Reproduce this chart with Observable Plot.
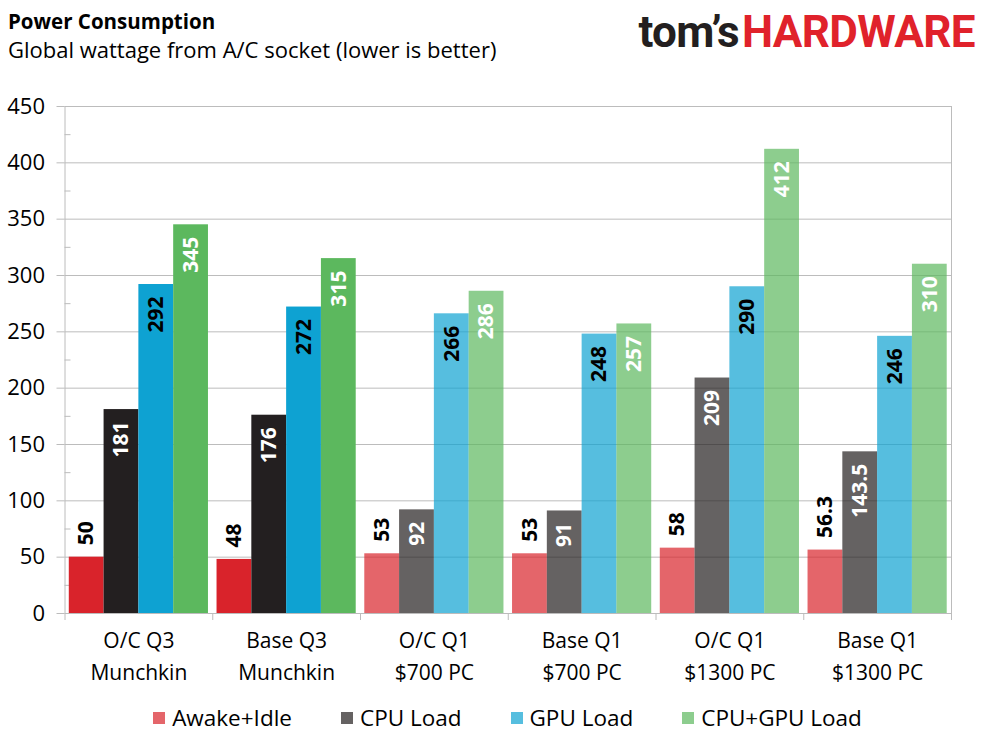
<!DOCTYPE html>
<html>
<head>
<meta charset="utf-8">
<script src="https://cdn.jsdelivr.net/npm/d3@7"></script>
<script src="https://cdn.jsdelivr.net/npm/@observablehq/plot@0.6"></script>
<style>
  html, body { margin: 0; padding: 0; background: #fff; }
  body { width: 989px; height: 742px; position: relative; overflow: hidden; font-family: "Open Sans", sans-serif; color: #000; }
  #title { position: absolute; left: 8px; top: 11px; font-size: 20.5px; font-weight: 700; line-height: 1; white-space: nowrap; }
  #subtitle { position: absolute; left: 8px; top: 38px; font-size: 22px; line-height: 1; white-space: nowrap; }
  #logo { position: absolute; right: 14px; top: 10px; font-family: Roboto, sans-serif; font-weight: 700; font-size: 44px; line-height: 1; letter-spacing: -0.6px; white-space: nowrap; }
  #logo .a { color: #231f20; }
  #logo .b { color: #e0222b; margin-left: 3px; }
  #chart { position: absolute; left: 0; top: 90px; }
  #legend { position: absolute; left: 0; top: 704px; width: 1015px; display: flex; justify-content: center; gap: 49px; font-size: 22.5px; line-height: 28px; }
  #legend .item { display: flex; align-items: center; gap: 7px; white-space: nowrap; }
  #legend .sw { width: 12px; height: 12px; display: inline-block; }
</style>
</head>
<body>
<div id="title">Power Consumption</div>
<div id="subtitle">Global wattage from A/C socket (lower is better)</div>
<div id="logo"><span class="a">tom’s</span><span class="b">HARDWARE</span></div>
<div id="chart"></div>
<div id="legend"></div>
<script>
// ---- data ----
const groups = [
  "O/C Q3\nMunchkin",
  "Base Q3\nMunchkin",
  "O/C Q1\n$700 PC",
  "Base Q1\n$700 PC",
  "O/C Q1\n$1300 PC",
  "Base Q1\n$1300 PC"
];
const series = ["Awake+Idle", "CPU Load", "GPU Load", "CPU+GPU Load"];
const awakeIdle = [50, 48, 53, 53, 58, 56.3];
const cpuLoad   = [181, 176, 92, 91, 209, 143.5];
const gpuLoad   = [292, 272, 266, 248, 290, 246];
const cpuGpuLoad = [345, 315, 286, 257, 412, 310];
const yTicks = [0, 50, 100, 150, 200, 250, 300, 350, 400, 450];
const yMinorTicks = [25, 75, 125, 175, 225, 275, 325, 375, 425];

// ---- styles ----
const colors = ["#d9232b", "#231f20", "#0ea2d2", "#5cb85e"];
const labelColors = ["#000", "#fff", "#000", "#fff"];
const q1Opacity = 0.7;
const GAP = 0.029;
const BW = (1 - 2 * GAP) / 4;

const valuesBySeries = [awakeIdle, cpuLoad, gpuLoad, cpuGpuLoad];
const rows = [];
groups.forEach((g, gi) => series.forEach((s, si) => rows.push({ g, gi, s, si, v: valuesBySeries[si][gi], q3: gi < 2 })));

const x1 = d => d.gi + GAP + d.si * BW;
const x2 = d => d.gi + GAP + (d.si + 1) * BW;
const xm = d => d.gi + GAP + (d.si + 0.5) * BW;
const grid = "#bcbcbc";

const chart = Plot.plot({
  width: 989,
  height: 612,
  marginTop: 16,
  marginBottom: 89,
  marginLeft: 64.5,
  marginRight: 38,
  x: { domain: [0, groups.length], axis: null },
  y: { domain: [0, 450], axis: null },
  color: { type: "identity" },
  style: { fontFamily: "Open Sans, sans-serif", background: "white", color: "#000", overflow: "visible" },
  marks: [
    Plot.gridY(yTicks, { stroke: grid, strokeOpacity: 1 }),
    Plot.axisY(yTicks, { label: null, tickSize: 8, stroke: grid, tickPadding: 12, fontSize: 22, tickFormat: d => String(d) }),
    Plot.axisY(yMinorTicks, { label: null, tickSize: -6, stroke: grid, tickFormat: () => "" }),
    Plot.ruleX([0, groups.length], { stroke: grid }),
    Plot.axisX(d3.range(groups.length + 1), { label: null, tickSize: 7, stroke: grid, tickFormat: () => "" }),
    Plot.axisX(groups.map((g, i) => i + 0.5), { label: null, tickSize: 0, tickPadding: 11, fontSize: 21, lineHeight: 1.55, tickFormat: v => groups[Math.floor(v)] }),
    Plot.rect(rows.filter(d => d.q3), { x1, x2, y1: 0, y2: "v", fill: d => colors[d.si] }),
    Plot.rect(rows.filter(d => !d.q3), { x1, x2, y1: 0, y2: "v", fill: d => colors[d.si], fillOpacity: q1Opacity }),
    Plot.text(rows.filter(d => d.si === 0), { x: xm, y: "v", text: d => String(d.v), rotate: -90, textAnchor: "start", dy: -12, fontWeight: "bold", fontSize: 21, fill: "#000" }),
    Plot.text(rows.filter(d => d.si > 0), { x: xm, y: "v", text: d => String(d.v), rotate: -90, textAnchor: "end", dy: 12, fontWeight: "bold", fontSize: 21, fill: d => labelColors[d.si] })
  ]
});
document.getElementById("chart").appendChild(chart);

// legend (Q1 shades)
const legend = document.getElementById("legend");
series.forEach((s, si) => {
  const item = document.createElement("div");
  item.className = "item";
  const sw = document.createElement("span");
  sw.className = "sw";
  sw.style.background = colors[si];
  sw.style.opacity = q1Opacity;
  const t = document.createElement("span");
  t.textContent = s;
  item.appendChild(sw);
  item.appendChild(t);
  legend.appendChild(item);
});
</script>
</body>
</html>
